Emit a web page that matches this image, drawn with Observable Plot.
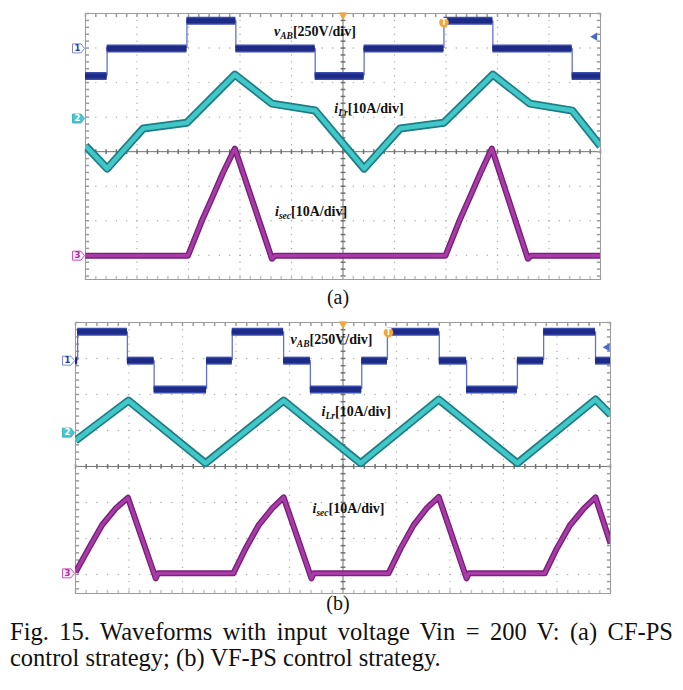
<!DOCTYPE html>
<html><head><meta charset="utf-8">
<script src="https://cdn.jsdelivr.net/npm/d3@7"></script>
<script src="https://cdn.jsdelivr.net/npm/@observablehq/plot@0.6"></script>
<style>
body{margin:0;background:#fff;width:683px;height:690px;position:relative;overflow:hidden;font-family:"Liberation Serif","Times New Roman",serif;color:#111;}
.abs{position:absolute;}
.sub{font-size:20px;line-height:22px;text-align:center;width:676px;left:0;}
#cap{left:10px;top:619px;width:663px;font-size:24.5px;line-height:26px;}
#cap .l1{text-align:justify;text-align-last:justify;white-space:nowrap;}
</style></head><body>
<div id="pa" class="abs" style="left:0;top:0"></div>
<div class="abs sub" style="top:286px">(a)</div>
<div id="pb" class="abs" style="left:0;top:310px"></div>
<div class="abs sub" style="top:592px">(b)</div>
<div id="cap" class="abs"><div class="l1">Fig. 15. Waveforms with input voltage Vin = 200 V: (a) CF-PS</div><div>control strategy; (b) VF-PS control strategy.</div></div>
<script>
// ---------- data (time in screen divisions, volts / amps) ----------
const voltsPerDiv = 250, ampsPerDiv = 10;
const channelNames = ["1", "2", "3"];

// panel (a) CF-PS
const aOffsets = [2.99, 0.96, -3.01];          // channel zero levels (div)
const aVabEdges  = [-5, -4.58, -3.03, -2.08, -0.54, 0.41, 1.96, 2.91, 4.45, 5];
const aVabLevels = [-200, 0, 200, 0, -200, 0, 200, 0, -200];
const aIlrT = [-5.0, -4.58, -3.88, -3.03, -2.10, -1.38, -0.54, 0.41, 1.11, 1.96, 2.91, 3.63, 4.45, 5.0];
const aIlrA = [-7.9, -14.5, -2.9, -1.2, 12.7, 4.3, 2.3, -14.5, -2.9, -1.2, 12.7, 4.3, 2.3, -8.0];
const aIsecT = [-5, -3.01, -2.74, -2.54, -2.33, -2.10, -1.38, -1.32, 1.99, 2.26, 2.46, 2.67, 2.89, 3.59, 3.65, 5];
const aIsecA = [0, 0, 10.1, 16.8, 24.0, 31.0, -0.9, 0, 0, 10.1, 16.8, 24.0, 31.0, -0.9, 0, 0];

// panel (b) VF-PS
const bOffsets = [2.94, 0.94, -2.97];
const bVabEdges  = [-5, -4.96, -4.03, -3.53, -2.55, -2.07, -1.11, -0.61, 0.35, 0.83, 1.80, 2.31, 3.26, 3.75, 4.72, 5];
const bVabLevels = [0, 200, 0, -200, 0, 200, 0, -200, 0, 200, 0, -200, 0, 200, 0];
const bIlrT = [-5.0, -4.01, -2.57, -1.11, 0.33, 1.79, 3.26, 4.72, 5.0];
const bIlrA = [-2.2, 8.9, -8.5, 8.9, -8.5, 9.2, -8.5, 9.2, 5.0];
const bIsecT = [-5.0, -4.75, -4.50, -4.25, -4.02, -3.50, -3.46, -2.05, -1.82, -1.58, -1.32, -1.11, -0.59, -0.55, 0.85, 1.08, 1.32, 1.57, 1.79, 2.31, 2.35, 3.77, 4.00, 4.24, 4.50, 4.72, 5.0];
const bIsecA = [0.3, 7.0, 13.5, 18.0, 21.0, -1.4, 0, 0, 6.9, 13.3, 18.1, 21.1, -1.4, 0, 0, 7.0, 13.4, 18.2, 21.2, -1.4, 0, 0, 7.0, 13.3, 18.0, 21.1, 8.3];

// trace labels
const labelSyms  = ["v", "i", "i"];
const labelSubs  = ["AB", "Lr", "sec"];
const labelUnits = ["[250V/div]", "[10A/div]", "[10A/div]"];

// ---------- layout / annotation config ----------
const layoutA = {
  width: 683, height: 290, marginLeft: 85, marginRight: 83, marginTop: 13, marginBottom: 11, ymin: -3.7,
  labelPos: [[-1.34, 3.49], [-0.17, 1.26], [-1.32, -1.72]],
  trigger: [1.96, 3.74], arrow: [4.89, 3.33]
};
const layoutB = {
  width: 683, height: 290, marginLeft: 75, marginRight: 73, marginTop: 12, marginBottom: 7, ymin: -3.53,
  labelPos: [[-0.98, 3.54], [-0.40, 1.54], [-0.57, -1.18]],
  trigger: [0.85, 3.72], arrow: [4.94, 3.31]
};

// ---------- symbols ----------
const vtick = {draw(ctx, size){ const r = Math.sqrt(size / Math.PI); ctx.moveTo(0, -r); ctx.lineTo(0, r); }};
const htick = {draw(ctx, size){ const r = Math.sqrt(size / Math.PI); ctx.moveTo(-r, 0); ctx.lineTo(r, 0); }};
const pent  = {draw(ctx, size){ const s = Math.sqrt(size / Math.PI) / 5;
  ctx.moveTo(-6*s, -4.5*s); ctx.lineTo(2.5*s, -4.5*s); ctx.lineTo(6*s, 0); ctx.lineTo(2.5*s, 4.5*s); ctx.lineTo(-6*s, 4.5*s); ctx.closePath(); }};

const gridGray = "#9c9c9c", axisGray = "#707070";

function gridMarks(ymin){
  const xs = d3.range(-25, 26).map(k => k / 5);
  const ys = d3.range(-20, 21).map(k => k / 5).filter(v => v >= ymin - 1e-9);
  const majX = [-4, -3, -2, -1, 1, 2, 3, 4];
  const majY = [-3, -2, -1, 1, 2, 3].filter(v => v > ymin);
  const dots = [];
  for (const x of majX) for (const y of ys) dots.push({x, y});
  for (const y of majY) for (const x of xs) dots.push({x, y});
  return [
    Plot.dot(dots, {x: "x", y: "y", r: 0.7, fill: "#a8a8a8", stroke: null}),
    Plot.ruleX([0], {stroke: axisGray, strokeWidth: 1}),
    Plot.ruleY([0], {stroke: axisGray, strokeWidth: 1}),
    Plot.dot(xs.map(x => ({x, y: 0})), {x: "x", y: "y", symbol: vtick, r: 2.4, stroke: axisGray, fill: "none"}),
    Plot.dot(ys.map(y => ({x: 0, y})), {x: "x", y: "y", symbol: htick, r: 2.4, stroke: axisGray, fill: "none"}),
    Plot.dot(xs.map(x => ({x, y: 4})), {x: "x", y: "y", symbol: vtick, r: 1.8, dy: 1.8, stroke: gridGray, fill: "none"}),
    Plot.dot(xs.map(x => ({x, y: ymin})), {x: "x", y: "y", symbol: vtick, r: 1.8, dy: -1.8, stroke: "#c4c4c4", fill: "none"}),
    Plot.dot(ys.map(y => ({x: -5, y})), {x: "x", y: "y", symbol: htick, r: 1.8, dx: 1.8, stroke: gridGray, fill: "none"}),
    Plot.dot(ys.map(y => ({x: 5, y})), {x: "x", y: "y", symbol: htick, r: 1.8, dx: -1.8, stroke: gridGray, fill: "none"}),
    Plot.frame({stroke: gridGray, strokeWidth: 1})
  ];
}

function bandLine(ts, vs, off, scale, outer, inner, wo, wi){
  const data = ts.map((t, i) => ({t, v: vs[i]}));
  const y = d => off + d.v / scale;
  return [
    Plot.line(data, {x: "t", y, stroke: outer, strokeWidth: wo, strokeLinejoin: "round", strokeLinecap: "butt", clip: true}),
    Plot.line(data, {x: "t", y, stroke: inner, strokeWidth: wi, strokeLinejoin: "round", strokeLinecap: "butt", clip: true})
  ];
}

function vabMarks(edges, levels, off){
  const segs = levels.map((v, i) => ({t1: edges[i], t2: edges[i + 1], v}));
  const trans = levels.slice(1).map((v, i) => ({t: edges[i + 1], a: levels[i], b: v}));
  return [
    Plot.ruleX(trans, {x: "t", y1: d => off + d.a / voltsPerDiv, y2: d => off + d.b / voltsPerDiv, stroke: "#6372d2", strokeWidth: 1.3}),
    Plot.ruleY(segs, {x1: "t1", x2: "t2", y: d => off + d.v / voltsPerDiv, stroke: "#3a4cae", strokeWidth: 8, strokeLinecap: "butt"}),
    Plot.ruleY(segs, {x1: "t1", x2: "t2", y: d => off + d.v / voltsPerDiv, stroke: "#1d2a86", strokeWidth: 5, strokeLinecap: "butt"})
  ];
}

function panel(L, offsets, vabE, vabL, ilrT, ilrA, isT, isA){
  const labels = labelSyms.map((s, i) => ({t: L.labelPos[i][0], y: L.labelPos[i][1], sym: s, sub: labelSubs[i], unit: labelUnits[i]}));
  const markerStyle = [
    {fill: "#ffffff", stroke: "#7f86d8", color: "#2a3aa0"},
    {fill: "#4cc4cc", stroke: "#3fb7c0", color: "#ffffff"},
    {fill: "#fbe8fb", stroke: "#c45ac0", color: "#a0309c"}
  ];
  const markers = channelNames.map((c, i) => ({t: -5, y: offsets[i], c, ...markerStyle[i]}));
  const trig = [{t: L.trigger[0], y: L.trigger[1]}];
  const arrow = [{t: L.arrow[0], y: L.arrow[1]}];
  const svg = Plot.plot({
    width: L.width, height: L.height,
    marginLeft: L.marginLeft, marginRight: L.marginRight, marginTop: L.marginTop, marginBottom: L.marginBottom,
    x: {domain: [-5, 5], axis: null},
    y: {domain: [L.ymin, 4], axis: null},
    style: {background: "transparent", overflow: "visible"},
    marks: [
      ...gridMarks(L.ymin),
      ...vabMarks(vabE, vabL, offsets[0]),
      ...bandLine(isT, isA, offsets[2], ampsPerDiv, "#7a1f7c", "#a83ca6", 6, 3.2),
      ...bandLine(ilrT, ilrA, offsets[1], ampsPerDiv, "#1e7c84", "#42c7c8", 8, 4.6),
      Plot.text(labels, {x: "t", y: "y", text: d => d.sym + d.sub + d.unit, textAnchor: "start",
        fontFamily: "Liberation Serif, serif", fontSize: 14, fontWeight: "bold", fill: "#111"}),
      Plot.dot(markers, {x: "t", y: "y", symbol: pent, r: 5, dx: -7, fill: "fill", stroke: "stroke", strokeWidth: 1}),
      Plot.text(markers, {x: "t", y: "y", text: "c", dx: -8, fill: "color", fontSize: 8.5, fontWeight: "bold", fontFamily: "DejaVu Sans, sans-serif"}),
      Plot.dot([{t: 0, y: 4}], {x: "t", y: "y", symbol: "triangle", rotate: 180, r: 3.2, dy: 1.5, fill: "#f2a541", stroke: null}),
      Plot.dot(trig, {x: "t", y: "y", r: 4.8, fill: "#f3a53c", stroke: null}),
      Plot.text(trig, {x: "t", y: "y", text: () => "T", fill: "#fff", fontSize: 8, fontWeight: "bold", fontFamily: "DejaVu Sans, sans-serif"}),
      Plot.dot(arrow, {x: "t", y: "y", symbol: "triangle", rotate: -90, r: 3, fill: "#4b68c8", stroke: null})
    ]
  });
  // rich text for trace labels (italic symbol + subscript)
  const ns = "http://www.w3.org/2000/svg";
  svg.querySelectorAll("text").forEach(el => {
    const l = labels.find(l => l.sym + l.sub + l.unit === el.textContent);
    if (!l) return;
    el.textContent = "";
    const a = document.createElementNS(ns, "tspan"); a.setAttribute("font-style", "italic"); a.textContent = l.sym;
    const b = document.createElementNS(ns, "tspan"); b.setAttribute("font-style", "italic"); b.setAttribute("font-size", "9.5"); b.setAttribute("dy", "3"); b.textContent = l.sub;
    const c = document.createElementNS(ns, "tspan"); c.setAttribute("dy", "-3"); c.textContent = l.unit;
    el.append(a, b, c);
  });
  return svg;
}

document.getElementById("pa").append(panel(layoutA, aOffsets, aVabEdges, aVabLevels, aIlrT, aIlrA, aIsecT, aIsecA));
document.getElementById("pb").append(panel(layoutB, bOffsets, bVabEdges, bVabLevels, bIlrT, bIlrA, bIsecT, bIsecA));
</script>
</body></html>
